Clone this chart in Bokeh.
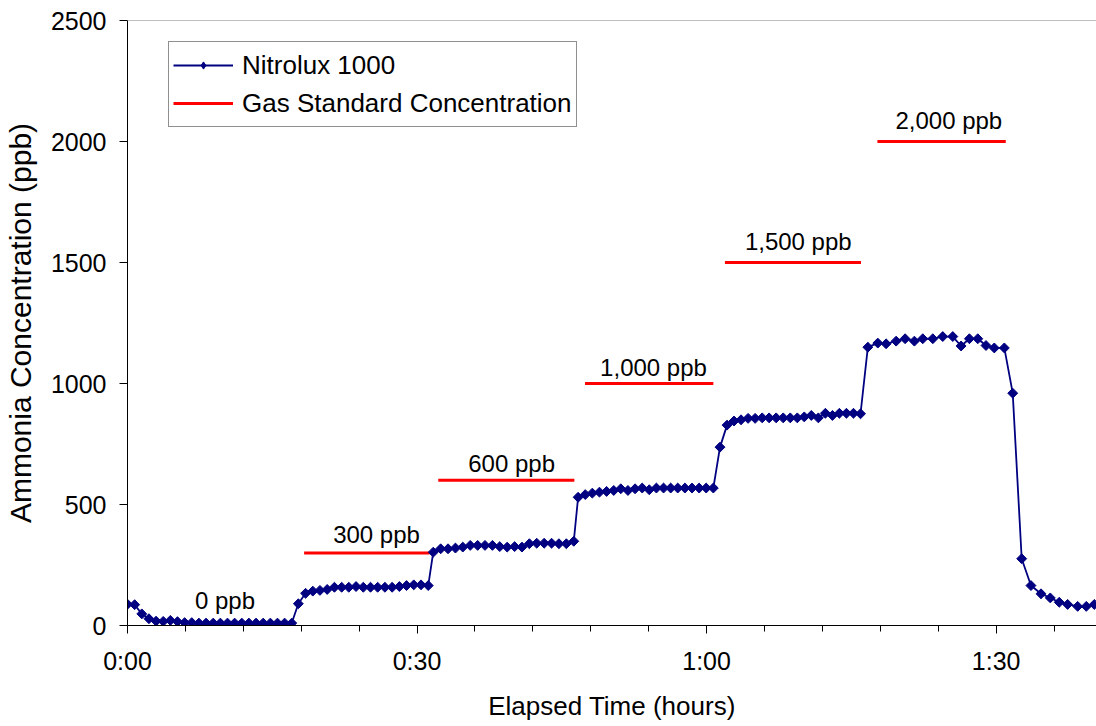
import numpy as np
from bokeh.plotting import figure
from bokeh.models import Range1d, FixedTicker, Span, Legend, LegendItem, ColumnDataSource
from bokeh.embed import file_html
from bokeh.resources import INLINE
from bokeh.core.properties import value

# ---------------- data ----------------
time_min = [
    0.00, 0.74, 1.48, 2.22, 2.96, 3.70, 4.44, 5.18, 5.92, 6.66, 7.40, 8.14,
    8.88, 9.62, 10.36, 11.10, 11.84, 12.58, 13.32, 14.06, 14.80, 15.54, 16.28, 17.02,
    17.70, 18.45, 19.20, 19.94, 20.69, 21.44, 22.19, 22.93, 23.68, 24.43, 25.18, 25.92,
    26.67, 27.42, 28.17, 28.91, 29.66, 30.41, 31.16,
    31.68, 32.45, 33.21, 33.98, 34.74, 35.51, 36.28, 37.04, 37.81, 38.57, 39.34, 40.11,
    40.87, 41.64, 42.40, 43.17, 43.94, 44.70, 45.47, 46.24,
    46.69, 47.43, 48.16, 48.90, 49.64, 50.38, 51.11, 51.85, 52.59, 53.33, 54.06, 54.80,
    55.54, 56.28, 57.01, 57.75, 58.49, 59.23, 59.96, 60.70,
    61.39, 62.12, 62.84, 63.57, 64.30, 65.03, 65.76, 66.48, 67.21, 67.94, 68.67, 69.40,
    70.12, 70.85, 71.58, 72.31, 73.04, 73.76, 74.49, 75.22, 75.95,
    76.71, 77.74, 78.60, 79.64, 80.57, 81.53, 82.40, 83.44, 84.47, 85.51, 86.37, 87.23,
    88.10, 88.95, 89.81, 90.85, 91.72, 92.65, 93.61, 94.65, 95.61, 96.54, 97.41, 98.45,
    99.34, 100.17,
]
nitrolux_ppb = [
    88, 86, 48, 28, 18, 17, 21, 16, 12, 12, 10, 10,
    10, 10, 10, 10, 10, 10, 10, 10, 10, 10, 10, 10,
    90, 133, 142, 145, 149, 158, 158, 158, 161, 158, 158, 158,
    158, 158, 161, 165, 168, 168, 165,
    303, 317, 317, 320, 324, 331, 331, 331, 331, 326, 324, 326,
    324, 338, 340, 340, 340, 338, 338, 348,
    530, 541, 547, 551, 554, 558, 565, 558, 565, 568, 561, 568,
    568, 568, 568, 568, 568, 568, 568, 568,
    737, 828, 845, 850, 856, 856, 858, 858, 858, 858, 858, 858,
    862, 868, 858, 877, 868, 877, 877, 877, 875,
    1150, 1167, 1164, 1175, 1185, 1175, 1185, 1185, 1194, 1194, 1155, 1185,
    1185, 1157, 1147, 1147, 960, 276, 165, 131, 114, 96, 87, 79,
    79, 87,
]

std_start_min = [18.3, 32.2, 47.4, 61.9, 77.7]
std_end_min = [31.3, 46.3, 60.7, 76.0, 91.0]
std_ppb = [300, 600, 1000, 1500, 2000]

label_text = ["0 ppb", "300 ppb", "600 ppb", "1,000 ppb", "1,500 ppb", "2,000 ppb"]
label_x_min = [10.1, 25.8, 39.8, 54.5, 69.5, 85.1]
label_y_ppb = [105, 376, 669, 1066, 1587, 2087]

x_major_ticks = [0, 30, 60, 90]
x_tick_labels = ["0:00", "0:30", "1:00", "1:30"]
y_ticks = [0, 500, 1000, 1500, 2000, 2500]

FONT = "Liberation Sans"
NAVY = "#000080"

p = figure(width=1096, height=724, x_range=Range1d(0, 100.4), y_range=Range1d(0, 2500),
           output_backend="svg", toolbar_location=None,
           min_border_left=126, min_border_right=0, min_border_top=20, min_border_bottom=99)
p.background_fill_color = "white"
p.border_fill_color = "white"
p.outline_line_color = None
p.xgrid.visible = False
p.ygrid.visible = False

p.add_layout(Span(location=2500, dimension="width", line_color="#808080", line_width=1))

# gas standard segments
std_src = ColumnDataSource(dict(x0=std_start_min, x1=std_end_min, y=std_ppb))
r_std = p.segment(x0="x0", y0="y", x1="x1", y1="y", source=std_src,
                  line_color="#FF0000", line_width=3)

# Nitrolux series
src = ColumnDataSource(dict(t=time_min, v=nitrolux_ppb))
r_line = p.line("t", "v", source=src, line_color=NAVY, line_width=1.8)
# small diamonds (hidden under the rotated squares) - used for the legend symbol
r_leg_marker = p.scatter("t", "v", source=src, marker="diamond", size=6,
                         fill_color=NAVY, line_color=NAVY, line_width=1)
r_pts = p.scatter("t", "v", source=src, marker="square", angle=np.pi / 4, size=7,
                  fill_color=NAVY, line_color=NAVY, line_width=1)

# labels
lab_src = ColumnDataSource(dict(x=label_x_min, y=label_y_ppb, text=label_text))
p.text("x", "y", text="text", source=lab_src, text_align="center", text_baseline="middle",
       text_font=value(FONT), text_font_size="24px", text_color="black")

# axes
xa = p.xaxis[0]
xa.ticker = FixedTicker(ticks=x_major_ticks, minor_ticks=list(range(6, 101, 6)))
xa.major_label_overrides = {t: s for t, s in zip(x_major_ticks, x_tick_labels)}
ya = p.yaxis[0]
ya.ticker = FixedTicker(ticks=y_ticks)

for ax in (xa, ya):
    ax.axis_line_color = "black"
    ax.axis_line_width = 1
    ax.major_tick_line_color = "black"
    ax.minor_tick_line_color = "black"
    ax.major_tick_in = 0
    ax.major_tick_out = 8
    ax.minor_tick_in = 0
    ax.major_label_text_font = FONT
    ax.major_label_text_font_size = "25px"
    ax.major_label_text_color = "black"
    ax.axis_label_text_font = FONT
    ax.axis_label_text_font_size = "26px"
    ax.axis_label_text_font_style = "normal"
    ax.axis_label_text_color = "black"

ya.axis_label_text_font_size = "30px"
xa.minor_tick_out = 6
ya.minor_tick_out = 0
ya.minor_tick_line_color = None
xa.major_label_standoff = 13
ya.major_label_standoff = 13
xa.axis_label = "Elapsed Time (hours)"
ya.axis_label = "Ammonia Concentration (ppb)"
xa.axis_label_standoff = 13
ya.axis_label_standoff = 11

legend = Legend(items=[LegendItem(label="Nitrolux 1000", renderers=[r_line, r_leg_marker]),
                       LegendItem(label="Gas Standard Concentration", renderers=[r_std])],
                location=(41, 498))
legend.label_text_font = FONT
legend.label_text_font_size = "26px"
legend.label_text_color = "black"
legend.padding = 4
legend.spacing = 0
legend.margin = 0
legend.glyph_width = 60
legend.glyph_height = 18
legend.label_height = 38
legend.label_standoff = 9
legend.border_line_color = "#222222"
legend.border_line_width = 1
legend.background_fill_color = "white"
legend.background_fill_alpha = 1
p.add_layout(legend)

open("out.html", "w").write(file_html(p, INLINE))
